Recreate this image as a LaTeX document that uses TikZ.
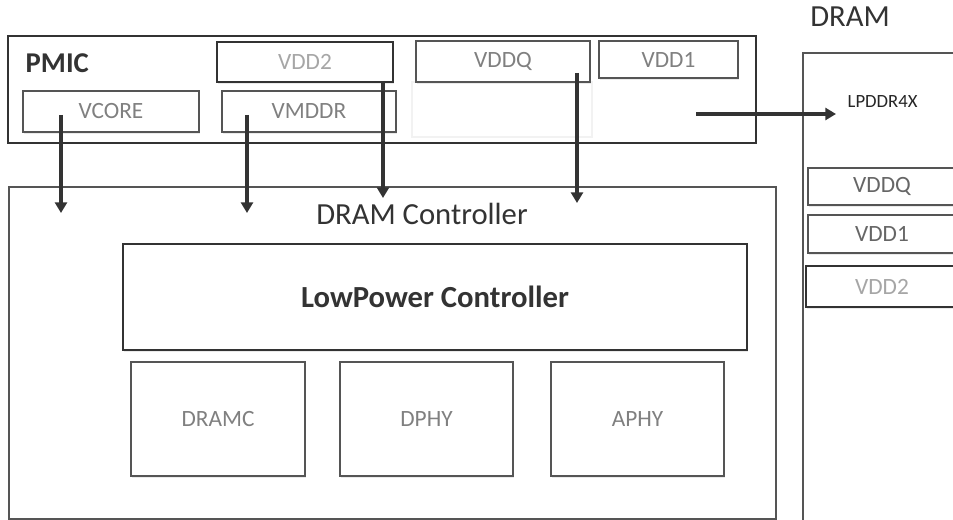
\documentclass[tikz,border=0pt]{standalone}
\usepackage{fontspec}
\setmainfont{Carlito}
\usetikzlibrary{arrows.meta,shadows}

\definecolor{edge}{HTML}{555555}
\definecolor{ink}{HTML}{333333}
\definecolor{lbl}{HTML}{808080}
\definecolor{lblpale}{HTML}{A6A6A6}
\tikzset{
  wd/.style={minimum width=#1*.75pt,inner sep=0pt},
  ht/.style={minimum height=#1*.75pt},
  box/.style={draw=edge,line width=1.1pt,fill=white,text=lbl,
    font=\fontsize{17.5}{20}\selectfont,
    drop shadow={shadow xshift=1.1pt,shadow yshift=-1.6pt,opacity=.16}},
  frame/.style={draw=edge,line width=1pt,fill=white},
  pale/.style={box,draw=ink,line width=1.4pt,text=lblpale},
  pwr/.style={ink,line width=2.6pt,-{Triangle[length=8pt,width=9pt]}}
}

\begin{document}
\begin{tikzpicture}[x=.75pt,y=-.75pt,line join=miter]
  \useasboundingbox (0,0) rectangle (953,520);
  % outer blocks
  \node[frame,draw=ink,line width=1.6pt,wd=748,ht=107] (pmic) at (382,89.5) {};
  \node[frame,wd=767,ht=332] (ctrl) at (392.5,353) {};
  \node[frame,wd=172,ht=492] (dram) at (889,299) {};
  \node[font=\fontsize{21.5}{25}\selectfont\bfseries,text=ink,anchor=west]
    (pmiclbl) at (21,63) {PMIC};
  \node[font=\fontsize{23}{27}\selectfont,text=ink] (ctrllbl) at (422,214) {DRAM Controller};
  \node[font=\fontsize{23}{27}\selectfont,text=ink] (dramlbl) at (850,17) {DRAM};
  \node[font=\fontsize{14}{17}\selectfont,text=black!85,anchor=west]
    (lpddr) at (843,102) {LPDDR4X};
  % PMIC rails
  \node[draw=black!5,line width=.8pt,wd=180,ht=55] (spare) at (502,109.5) {};
  \node[pale,wd=176,ht=40] (pvdd2) at (305,62) {VDD2};
  \node[box,wd=174,ht=41] (pvddq) at (503,61.5) {VDDQ};
  \node[box,wd=139,ht=37] (pvdd1) at (668.5,59.5) {VDD1};
  \node[box,wd=176,ht=41] (vcore) at (111,111.5) {VCORE};
  \node[box,wd=174,ht=41] (vmddr) at (309,111.5) {VMDDR};
  % controller internals
  \node[box,draw=ink,line width=1.6pt,text=ink,wd=624,ht=106,
    font=\fontsize{23}{27}\selectfont\bfseries] (lpc) at (435,297) {LowPower Controller};
  \node[box,wd=174,ht=114] (dramc) at (218,419) {DRAMC};
  \node[box,wd=173,ht=114] (dphy) at (426.5,419) {DPHY};
  \node[box,wd=173,ht=114] (aphy) at (637.5,419) {APHY};
  % DRAM rails
  \node[box,text=black!60,wd=148,ht=37] (dvddq) at (882,186.5) {VDDQ};
  \node[box,text=black!60,wd=148,ht=38] (dvdd1) at (882,234) {VDD1};
  \node[pale,drop shadow={opacity=0},wd=152,ht=41] (dvdd2) at (882,286.5) {VDD2};
  % supply arrows
  \coordinate (vcoreOut) at (61,115);
  \coordinate (vcoreIn) at (61,213);
  \coordinate (vmddrOut) at (247,115);
  \coordinate (vmddrIn) at (247,213);
  \coordinate (vddtwoOut) at (383,81);
  \coordinate (vddtwoIn) at (383,198);
  \coordinate (vddqOut) at (577,73);
  \coordinate (vddqIn) at (577,203);
  \coordinate (linkOut) at (696,114);
  \coordinate (linkIn) at (836,114);
  \draw[pwr] (vcoreOut) -- (vcoreIn);
  \draw[pwr] (vmddrOut) -- (vmddrIn);
  \draw[pwr] (vddtwoOut) -- (vddtwoIn);
  \draw[pwr] (vddqOut) -- (vddqIn);
  \draw[pwr] (linkOut) -- (linkIn);
\end{tikzpicture}
\end{document}
